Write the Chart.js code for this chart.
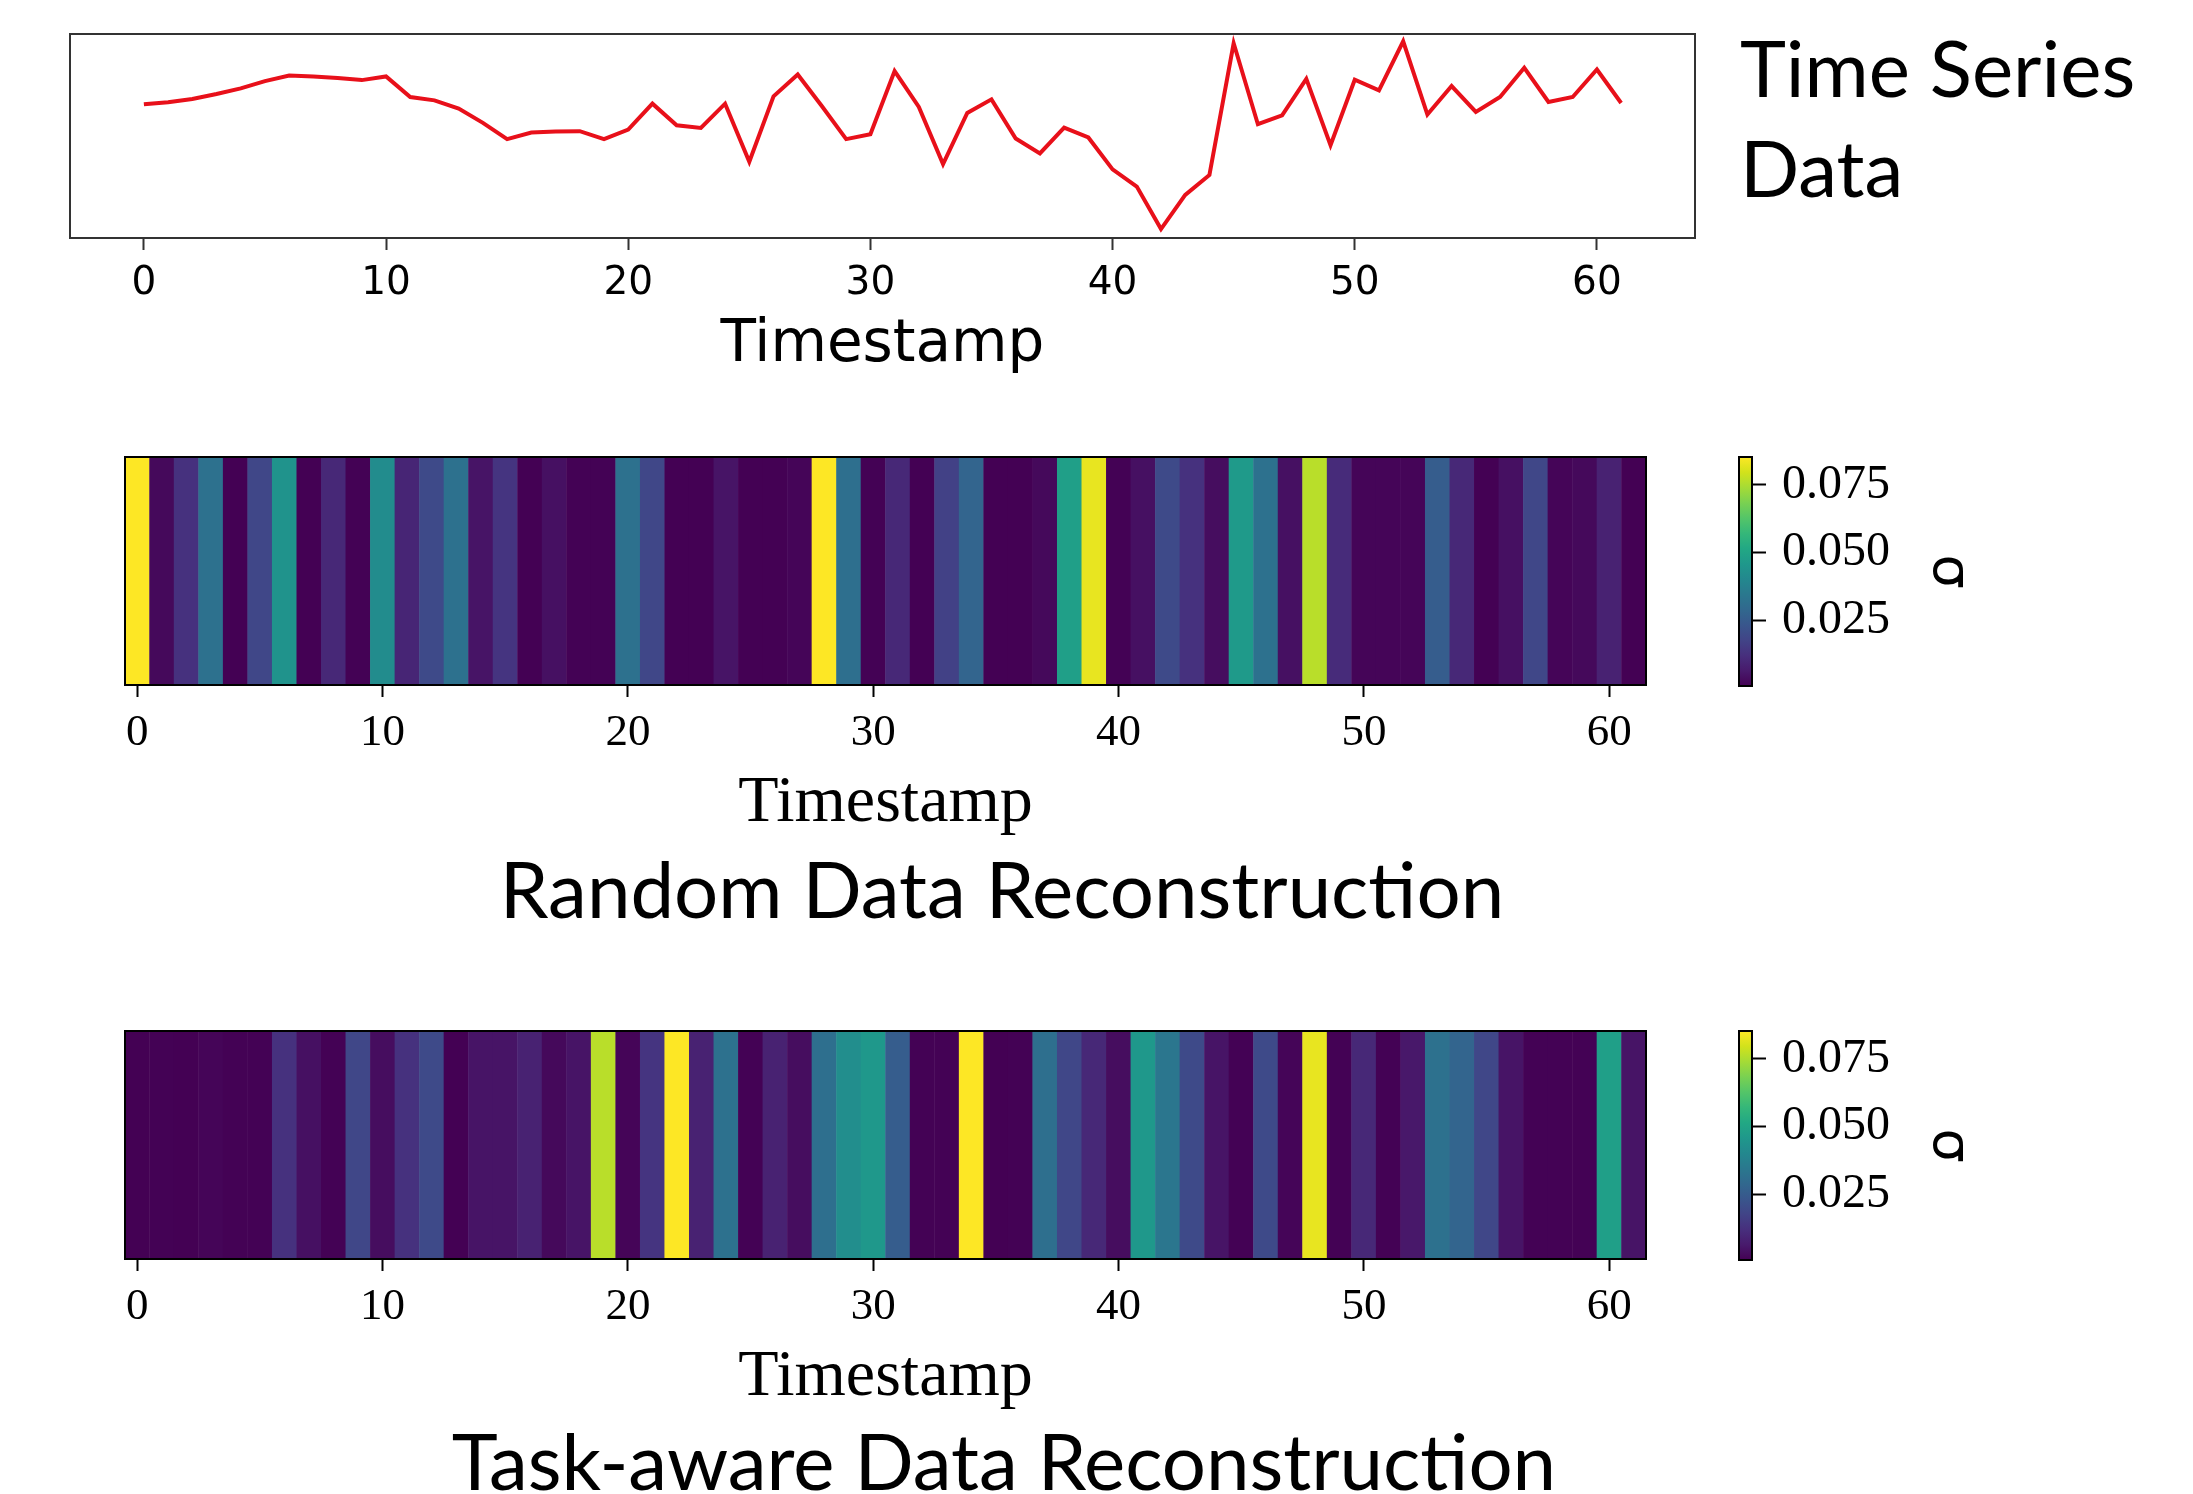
<!DOCTYPE html>
<html><head><meta charset="utf-8">
<script src="https://cdn.jsdelivr.net/npm/chart.js@4.4.1/dist/chart.umd.min.js"></script>
<style>
html,body{margin:0;padding:0;background:#fff;}
body{width:2193px;height:1494px;position:relative;overflow:hidden;}
canvas{position:absolute;}
.cap{position:absolute;font-family:Lato,"Open Sans",sans-serif;color:#000;white-space:nowrap;}
</style></head><body>
<canvas id="line" width="1720" height="400" style="left:0;top:0"></canvas>
<div class="cap" style="left:1740px;top:17px;font-size:78px;line-height:100px;">Time Series<br>Data</div>
<canvas id="hm1" width="1700" height="440" style="left:0;top:420px"></canvas>
<canvas id="cb1" width="300" height="300" style="left:1700px;top:420px"></canvas>
<div class="cap" style="left:302px;width:1400px;text-align:center;top:849px;font-size:78px;line-height:78px;">Random Data Reconstruction</div>
<canvas id="hm2" width="1700" height="440" style="left:0;top:994px"></canvas>
<canvas id="cb2" width="300" height="300" style="left:1700px;top:994px"></canvas>
<div class="cap" style="left:304px;width:1400px;text-align:center;top:1421px;font-size:78px;line-height:78px;">Task-aware Data Reconstruction</div>
<script>
// ---------- data ----------
const timestamps = Array.from({length: 62}, (_, i) => i);
const seriesValues = [
  40.3, 40.9, 41.9, 43.4, 45.1, 47.3, 49.0, 48.7, 48.2, 47.6,
  48.7, 42.5, 41.5, 39.0, 34.7, 29.8, 31.8, 32.1, 32.2, 29.8,
  32.7, 40.5, 34.0, 33.2, 40.5, 23.0, 42.7, 49.3, 39.7, 29.8,
  31.3, 50.3, 39.5, 22.3, 37.7, 41.8, 30.0, 25.5, 33.3, 30.3,
  20.7, 15.5, 2.7, 13.0, 19.0, 58.7, 34.3, 37.0, 48.0, 28.0,
  47.7, 44.5, 59.3, 37.2, 45.8, 38.0, 42.5, 51.3, 41.0, 42.5,
  50.8, 40.7
];
const randomSigma = [
  0.0853, 0.0025, 0.0127, 0.0321, 0.0008, 0.0186, 0.0440, 0.0008, 0.0102, 0.0010,
  0.0415, 0.0093, 0.0195, 0.0321, 0.0051, 0.0135, 0.0008, 0.0042, 0.0010, 0.0011,
  0.0321, 0.0186, 0.0008, 0.0009, 0.0051, 0.0008, 0.0008, 0.0018, 0.0853, 0.0313,
  0.0010, 0.0102, 0.0008, 0.0169, 0.0279, 0.0008, 0.0008, 0.0025, 0.0482, 0.0825,
  0.0010, 0.0042, 0.0195, 0.0127, 0.0034, 0.0465, 0.0321, 0.0042, 0.0765, 0.0110,
  0.0018, 0.0018, 0.0018, 0.0254, 0.0102, 0.0008, 0.0042, 0.0186, 0.0018, 0.0025,
  0.0085, 0.0008
];
const taskSigma = [
  0.0008, 0.0010, 0.0008, 0.0018, 0.0010, 0.0010, 0.0127, 0.0042, 0.0010, 0.0186,
  0.0034, 0.0127, 0.0195, 0.0008, 0.0051, 0.0051, 0.0085, 0.0025, 0.0051, 0.0765,
  0.0018, 0.0135, 0.0853, 0.0085, 0.0321, 0.0010, 0.0085, 0.0034, 0.0313, 0.0423,
  0.0457, 0.0254, 0.0010, 0.0010, 0.0853, 0.0008, 0.0010, 0.0313, 0.0186, 0.0102,
  0.0034, 0.0457, 0.0338, 0.0195, 0.0051, 0.0010, 0.0195, 0.0018, 0.0825, 0.0010,
  0.0102, 0.0010, 0.0059, 0.0321, 0.0279, 0.0186, 0.0051, 0.0010, 0.0010, 0.0010,
  0.0482, 0.0051
];
const xTicks = [0, 10, 20, 30, 40, 50, 60];
const cbTicks = [0.025, 0.050, 0.075];
const cbMin = 0.0008;
const cbMax = 0.0853;

// ---------- colormap ----------
const VIRIDIS = ["#440154","#481a6c","#472f7d","#414487","#39568c","#31688e","#2a788e","#23888e",
                 "#1f988b","#22a884","#35b779","#54c568","#7ad151","#a5db36","#d2e21b","#fde725"];
function hexRgb(h){return [parseInt(h.slice(1,3),16),parseInt(h.slice(3,5),16),parseInt(h.slice(5,7),16)];}
function viridis(t){
  t = Math.min(1, Math.max(0, t));
  const n = VIRIDIS.length - 1, f = t * n, i = Math.min(n - 1, Math.floor(f)), u = f - i;
  const a = hexRgb(VIRIDIS[i]), b = hexRgb(VIRIDIS[i + 1]);
  return 'rgb(' + a.map((c, k) => Math.round(c + (b[k] - c) * u)).join(',') + ')';
}
function cbGradient(chart){
  const a = chart.chartArea;
  if (!a) return VIRIDIS[0];
  const g = chart.ctx.createLinearGradient(0, a.bottom, 0, a.top);
  VIRIDIS.forEach((c, i) => g.addColorStop(i / (VIRIDIS.length - 1), c));
  return g;
}

const framePlugin = {
  id: 'frame',
  afterDraw(chart, args, opts){
    const {ctx, chartArea: a} = chart;
    ctx.save();
    ctx.strokeStyle = opts.color || '#000';
    ctx.lineWidth = opts.width || 2;
    ctx.strokeRect(a.left, a.top, a.right - a.left, a.bottom - a.top);
    ctx.restore();
  }
};
function noPad(s){ s.paddingTop = 0; s.paddingBottom = 0; s.paddingLeft = 0; s.paddingRight = 0; }

const base = {responsive: false, animation: false, devicePixelRatio: 1, events: []};

// ---------- line chart ----------
new Chart(document.getElementById('line'), {
  type: 'line',
  data: {labels: timestamps, datasets: [{data: seriesValues, borderColor: '#e8101a', borderWidth: 4,
    pointRadius: 0, tension: 0, fill: false}]},
  options: Object.assign({}, base, {
    layout: {padding: {left: 70, right: 25, top: 34, bottom: 0}},
    plugins: {legend: {display: false}, tooltip: {enabled: false}, frame: {color: '#333', width: 2}},
    scales: {
      x: {type: 'linear', min: -3.05, max: 64.05,
        afterBuildTicks: s => { s.ticks = xTicks.map(v => ({value: v})); },
        afterFit: s => { s.height = 162; noPad(s); },
        grid: {drawOnChartArea: false, drawTicks: true, tickLength: 12, tickWidth: 2, tickColor: '#333'},
        border: {display: false},
        ticks: {font: {family: 'DejaVu Sans', size: 39}, color: '#000', padding: 10, maxRotation: 0, autoSkip: false},
        title: {display: true, text: 'Timestamp', font: {family: 'DejaVu Sans', size: 58, lineHeight: 1.2},
          color: '#000', padding: {top: 0, bottom: 19}}},
      y: {display: false, min: 0, max: 61.5}
    }
  }),
  plugins: [framePlugin]
});

// ---------- heatmaps ----------
function heatmap(id, values){
  new Chart(document.getElementById(id), {
    type: 'bar',
    data: {labels: timestamps, datasets: [{
      data: values.map(() => [-0.5, 0.5]),
      backgroundColor: values.map(v => viridis((v - cbMin) / (cbMax - cbMin))),
      borderWidth: 0, barPercentage: 1.02, categoryPercentage: 1.0}]},
    options: Object.assign({}, base, {
      layout: {padding: {left: 125, right: 54, top: 37, bottom: 0}},
      plugins: {legend: {display: false}, tooltip: {enabled: false}, frame: {color: '#000', width: 2}},
      scales: {
        x: {type: 'linear', min: -0.5, max: 61.5, offset: false,
          afterBuildTicks: s => { s.ticks = xTicks.map(v => ({value: v})); },
          afterFit: s => { s.height = 175; noPad(s); },
          grid: {offset: false, drawOnChartArea: false, drawTicks: true, tickLength: 12, tickWidth: 2, tickColor: '#000'},
          border: {display: false},
          ticks: {font: {family: 'Liberation Serif', size: 45}, color: '#000', padding: 9, maxRotation: 0, autoSkip: false},
          title: {display: true, text: 'Timestamp', font: {family: 'Liberation Serif', size: 66, lineHeight: 1.2},
            color: '#000', padding: {top: 0, bottom: 17}}},
        y: {display: false, min: -0.5, max: 0.5}
      }
    }),
    plugins: [framePlugin]
  });
}
function colorbar(id){
  new Chart(document.getElementById(id), {
    type: 'bar',
    data: {labels: ['σ'], datasets: [{data: [[cbMin, cbMax]], backgroundColor: ctx => cbGradient(ctx.chart),
      borderWidth: 0, barPercentage: 1, categoryPercentage: 1}]},
    options: Object.assign({}, base, {
      layout: {padding: {left: 39, right: 0, top: 37, bottom: 34}},
      plugins: {legend: {display: false}, tooltip: {enabled: false}, frame: {color: '#000', width: 2}},
      scales: {
        x: {display: false},
        y: {position: 'right', min: cbMin, max: cbMax,
          afterBuildTicks: s => { s.ticks = cbTicks.map(v => ({value: v})); },
          afterFit: s => { s.width = 248; noPad(s); },
          grid: {drawOnChartArea: false, drawTicks: true, tickLength: 14, tickWidth: 2, tickColor: '#000'},
          border: {display: false},
          ticks: {font: {family: 'Liberation Serif', size: 48}, color: '#000', padding: 16, callback: v => v.toFixed(3)},
          title: {display: true, text: 'σ', font: {family: 'DejaVu Sans', size: 54, lineHeight: 1.2},
            color: '#000', padding: {top: 20, bottom: 0}}}
      }
    }),
    plugins: [framePlugin]
  });
}
heatmap('hm1', randomSigma);
colorbar('cb1');
heatmap('hm2', taskSigma);
colorbar('cb2');
</script>
</body></html>
